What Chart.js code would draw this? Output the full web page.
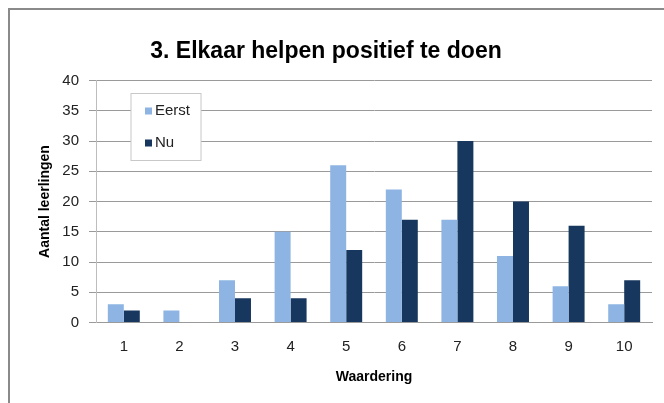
<!DOCTYPE html>
<html>
<head>
<meta charset="utf-8">
<script src="https://cdn.jsdelivr.net/npm/chart.js@4"></script>
<style>
  html, body { margin: 0; padding: 0; background: #fff; overflow: hidden; }
  #wrap { position: relative; width: 710px; height: 403px; }
</style>
</head>
<body>
<div id="wrap"><canvas id="waarderingChart" width="710" height="403"></canvas></div>
<script>
var categories = ['1', '2', '3', '4', '5', '6', '7', '8', '9', '10'];
var eerst = [3, 2, 7, 15, 26, 22, 17, 11, 6, 3];
var nu = [2, 0, 4, 4, 12, 17, 30, 20, 16, 7];
var seriesNames = ['Eerst', 'Nu'];
var seriesColors = ['#8DB4E2', '#17375E'];

var FONT = '"Liberation Sans", Arial, sans-serif';

// outer frame of the chart object
var framePlugin = {
    id: 'frame',
    beforeDraw: function (chart) {
        var c = chart.ctx;
        c.save();
        c.fillStyle = '#fff';
        c.fillRect(0, 0, chart.width, chart.height);
        c.strokeStyle = '#8a8a8a';
        c.lineWidth = 2;
        c.strokeRect(9, 9, chart.width - 14, chart.height + 20);
        c.restore();
    }
};

// legend box inside the plot, top left
var boxLegend = {
    id: 'boxLegend',
    afterDatasetsDraw: function (chart) {
        var c = chart.ctx;
        var x = 131, y = 93.5, w = 70, h = 67;
        c.save();
        c.fillStyle = '#fff';
        c.fillRect(x, y, w, h);
        c.strokeStyle = '#c8c8c8';
        c.lineWidth = 1;
        c.strokeRect(x, y, w, h);
        c.font = '15px ' + FONT;
        c.textBaseline = 'middle';
        c.fillStyle = '#222';
        chart.data.datasets.forEach(function (ds, i) {
            var cy = 111 + i * 32;
            c.fillStyle = ds.backgroundColor;
            c.fillRect(145, cy - 3.5, 7, 7);
            c.fillStyle = '#222';
            c.fillText(ds.label, 155, cy);
        });
        c.restore();
    }
};

var ctx = document.getElementById('waarderingChart').getContext('2d');
var chart = new Chart(ctx, {
    type: 'bar',
    data: {
        labels: categories,
        datasets: [
            {
                label: seriesNames[0],
                data: eerst,
                backgroundColor: seriesColors[0],
                categoryPercentage: 0.575,
                barPercentage: 1
            },
            {
                label: seriesNames[1],
                data: nu,
                backgroundColor: seriesColors[1],
                categoryPercentage: 0.575,
                barPercentage: 1
            }
        ]
    },
    options: {
        responsive: false,
        animation: false,
        layout: { padding: { left: 0, right: 58, top: 0, bottom: 0 } },
        plugins: {
            legend: { display: false },
            tooltip: { enabled: false },
            title: {
                display: true,
                text: '3. Elkaar helpen positief te doen',
                color: '#000',
                font: { family: FONT, size: 23, weight: 'bold' },
                padding: { top: 38, bottom: 15 }
            }
        },
        scales: {
            x: {
                grid: { display: false, drawTicks: false },
                border: { display: true, color: '#9a9a9a' },
                ticks: {
                    color: '#222',
                    font: { family: FONT, size: 15 },
                    padding: 15,
                    maxRotation: 0
                },
                title: {
                    display: true,
                    text: 'Waardering',
                    color: '#000',
                    font: { family: FONT, size: 14, weight: 'bold' },
                    padding: { top: 0, bottom: 17 }
                },
                afterFit: function (scale) { scale.height = 80.5; }
            },
            y: {
                min: 0,
                max: 40,
                ticks: {
                    stepSize: 5,
                    color: '#222',
                    font: { family: FONT, size: 15 },
                    padding: 10
                },
                grid: { color: '#9a9a9a', tickLength: 7 },
                border: { display: true, color: '#bdbdbd' },
                title: {
                    display: true,
                    text: 'Aantal leerlingen',
                    color: '#000',
                    font: { family: FONT, size: 14, weight: 'bold' },
                    padding: { top: 37, bottom: 0 }
                },
                afterFit: function (scale) { scale.width = 96; }
            }
        }
    },
    plugins: [framePlugin, boxLegend]
});
</script>
</body>
</html>
